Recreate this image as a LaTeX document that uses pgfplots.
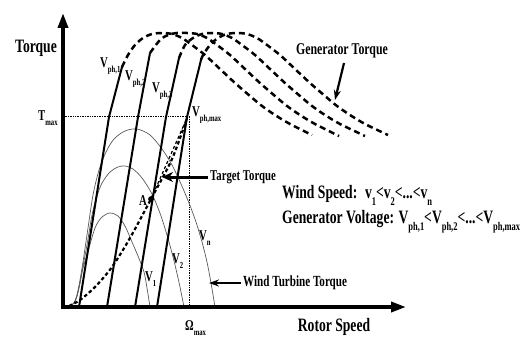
\documentclass[border=0pt]{standalone}
\usepackage{fontspec}
\setmainfont{Liberation Serif}[FakeStretch=0.72]
\usepackage{pgfplots}
\pgfplotsset{compat=1.18}
\usetikzlibrary{arrows.meta}
\newcommand{\fs}[1]{\fontsize{#1}{#1}\selectfont\bfseries}
\newcommand{\sbs}[1]{\raisebox{-0.38em}{\scalebox{0.62}{#1}}}
\begin{document}
\begin{tikzpicture}[x=1bp,y=1bp]
\useasboundingbox (0,0) rectangle (528,337);
\begin{axis}[at={(0,0)},anchor=south west,width=528bp,height=337bp,scale only axis,
  xmin=0,xmax=528,ymin=0,ymax=337,y dir=reverse,hide axis,clip=false]
% reference lines (T_max, Omega_max)
\addplot[black, line width=0.7bp, densely dotted] coordinates {(63,116)(189,116)(189,307)};
% wind turbine torque curves
\addplot[black!65, line width=0.7bp, smooth] coordinates {(66,307)(70,306)(74,303)(77,296)(80,283)(83,268)(87,255)(95,228)(102,217)(110,213)(118,216)(125,226)(132,242)(138,256)(144,272)(147,288)(150,307)};
\addplot[black!65, line width=0.7bp, smooth] coordinates {(66,307)(70,306)(74,303)(77,296)(80,283)(83,266)(87,245)(92,215)(97,196)(102,183)(110,172)(118,167)(125,166)(133,169)(142,178)(152,194)(161,216)(169,242)(175,265)(180,287)(184,307)};
\addplot[black!65, line width=0.7bp, smooth] coordinates {(66,307)(70,306)(74,303)(77,295)(80,280)(83,262)(88,228)(93,195)(99,170)(106,152)(114,139)(125,131)(137,129)(150,135)(162,149)(172,165)(181,184)(189,203)(196,222)(202,242)(207,262)(211,283)(215,307)};
% generator torque: steep solid parts
\addplot[black, line width=2bp] coordinates {(79,307)(109,117)(122,67)};
\addplot[black, line width=2bp] coordinates {(107,307)(138,117)(150,53)};
\addplot[black, line width=2bp] coordinates {(135,307)(166,117)(179,58)};
\addplot[black, line width=2bp] coordinates {(157,307)(187,117)(201,60)};
% generator torque: dashed parts
\addplot[black, line width=2.5bp, dash pattern=on 6bp off 4bp, smooth] coordinates {(122,67)(128,55)(135,45)(143,38)(152,34)(162,33)(172,34)(182,38)(192,45)(205,55)(220,69)(235,83)(250,96)(262,106)(275,115)(290,124)(312,135)};
\addplot[black, line width=2.5bp, dash pattern=on 6bp off 4bp, smooth] coordinates {(150,53)(160,40)(168,35)(177,33)(187,33)(197,34)(207,38)(217,45)(230,55)(245,69)(260,83)(275,96)(287,106)(300,115)(315,124)(339,136)};
\addplot[black, line width=2.5bp, dash pattern=on 6bp off 4bp, smooth] coordinates {(179,58)(185,45)(193,38)(202,34)(212,33)(222,34)(232,38)(242,45)(255,55)(270,69)(285,83)(300,96)(312,106)(325,115)(340,124)(365,136)};
\addplot[black, line width=2.5bp, dash pattern=on 6bp off 4bp, smooth] coordinates {(201,60)(203,55)(210,45)(218,38)(227,34)(237,33)(247,34)(257,38)(267,45)(280,55)(295,69)(310,83)(325,96)(337,106)(350,115)(365,124)(388,135)};
% target torque
\addplot[black, line width=2.2bp, dash pattern=on 3.5bp off 2.5bp, smooth] coordinates {(69,306)(80,300)(95,287)(112,267)(130,238)(151,199)(172,159)(187,118)};
\addplot[black, line width=1.2bp, dash pattern=on 3bp off 2.5bp] coordinates {(151,199)(187,118)};
% operating point A
\addplot[only marks, mark=*, mark size=2.6bp, black] coordinates {(151,199)};
% axes
\addplot[black, line width=3.5bp, -{Triangle[length=15bp,width=10bp]}] coordinates {(63,309)(63,13)};
\addplot[black, line width=3.5bp, -{Triangle[length=15bp,width=10bp]}] coordinates {(61.25,307)(406,307)};
% annotation arrows
\addplot[black, line width=3bp, -{Stealth[length=11bp,width=10bp]}] coordinates {(208,177)(162,177)};
\addplot[black, line width=2.2bp, -{Stealth[length=10bp,width=7bp]}] coordinates {(344,63)(335,100)};
\addplot[black, line width=2.2bp, -{Stealth[length=10bp,width=7bp]}] coordinates {(241,283)(209,283)};
% labels
\node[anchor=center] at (axis cs:36,48) {\fs{19}Torque};
\node[anchor=center] at (axis cs:334,327) {\fs{19}Rotor Speed};
\node[anchor=base west, inner sep=0pt] at (axis cs:38,120) {\fs{15}T\sbs{max}};
\node[anchor=base west, inner sep=0pt] at (axis cs:185,330) {\fs{15}Ω\sbs{max}};
\node[anchor=base west, inner sep=0pt] at (axis cs:100,67) {\fs{15}V\sbs{ph,1}};
\node[anchor=base west, inner sep=0pt] at (axis cs:125,80) {\fs{15}V\sbs{ph,2}};
\node[anchor=base west, inner sep=0pt] at (axis cs:152,92) {\fs{15}V\sbs{ph,3}};
\node[anchor=base west, inner sep=0pt] at (axis cs:192,116) {\fs{15}V\sbs{ph,max}};
\node[anchor=base west, inner sep=0pt] at (axis cs:145,281) {\fs{15}V\sbs{1}};
\node[anchor=base west, inner sep=0pt] at (axis cs:172,263) {\fs{15}V\sbs{2}};
\node[anchor=base west, inner sep=0pt] at (axis cs:199,240) {\fs{15}V\sbs{n}};
\node[anchor=base west, inner sep=0pt] at (axis cs:139,205) {\fs{15}A};
\node[anchor=west, inner sep=0pt] at (axis cs:210,177) {\fs{15}Target Torque};
\node[anchor=center, inner sep=0pt] at (axis cs:342,51) {\fs{16.5}Generator Torque};
\node[anchor=west, inner sep=0pt] at (axis cs:243,283) {\fs{15.5}Wind Turbine Torque};
\node[anchor=base west, inner sep=0pt] at (axis cs:282,198) {\fs{19}Wind Speed:\, v\sbs{1}<v\sbs{2}<...<v\sbs{n}};
\node[anchor=base west, inner sep=0pt] at (axis cs:282,223) {\fs{19}Generator Voltage: V\sbs{ph,1}<V\sbs{ph,2}<...<V\sbs{ph,max}};
\end{axis}
\end{tikzpicture}
\end{document}
